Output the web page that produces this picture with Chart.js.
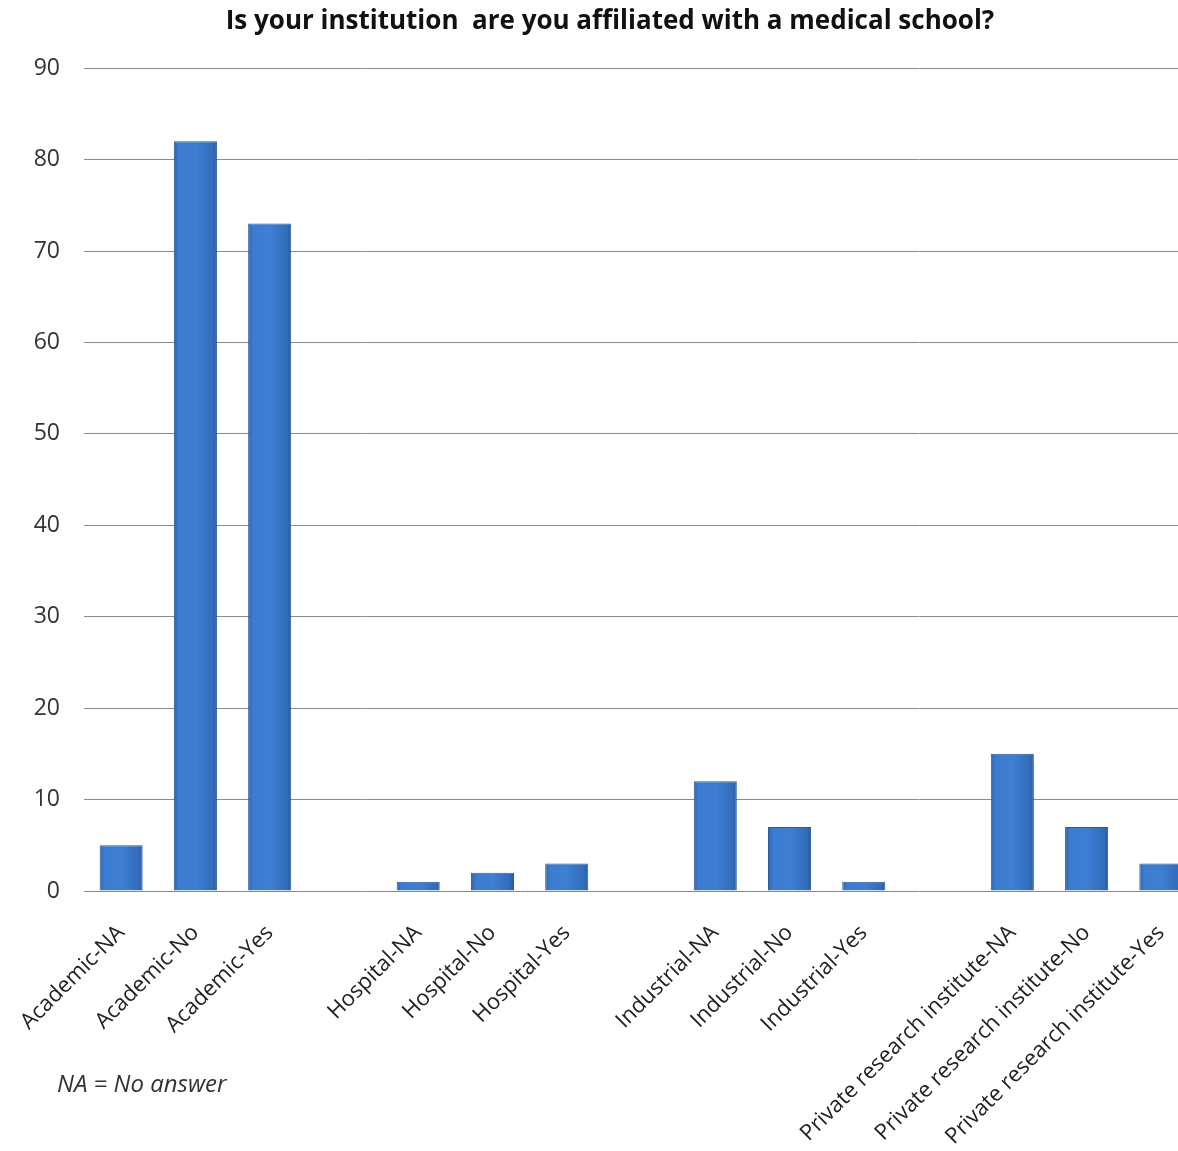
<!DOCTYPE html>
<html>
<head>
<meta charset="utf-8">
<script src="https://cdn.jsdelivr.net/npm/chart.js@4.4.1/dist/chart.umd.min.js"></script>
<style>
    html, body { margin: 0; padding: 0; background: #fff; overflow: hidden; }
    #wrap { position: relative; width: 1220px; height: 1151px; }
    #note {
        position: absolute; left: 57px; top: 1071px;
        font-family: 'Open Sans', sans-serif; font-style: italic;
        font-size: 24px; line-height: 24px; color: #333;
    }
</style>
</head>
<body>
<div id="wrap">
    <canvas id="chart" width="1220" height="1151"></canvas>
    <div id="note">NA = No answer</div>
</div>
<script>
// categorias (las vacias son los huecos entre grupos)
const categories = [
    'Academic-NA', 'Academic-No', 'Academic-Yes', '',
    'Hospital-NA', 'Hospital-No', 'Hospital-Yes', '',
    'Industrial-NA', 'Industrial-No', 'Industrial-Yes', '',
    'Private research institute-NA', 'Private research institute-No', 'Private research institute-Yes'
];
const counts = [5, 82, 73, null, 1, 2, 3, null, 12, 7, 1, null, 15, 7, 3];
const yTicks = [0, 10, 20, 30, 40, 50, 60, 70, 80, 90];

const FONT = "'Open Sans', sans-serif";

// degradado horizontal por barra, usando la escala x
const barFill = (ctx) => {
    const chart = ctx.chart;
    const area = chart.chartArea;
    if (!area) return '#3b78c8';
    const x = chart.scales.x.getPixelForValue(ctx.dataIndex);
    const half = 22;
    const g = chart.ctx.createLinearGradient(x - half, 0, x + half, 0);
    g.addColorStop(0, '#2f64ad');
    g.addColorStop(0.12, '#3b7bd0');
    g.addColorStop(0.5, '#3e7fd4');
    g.addColorStop(0.88, '#336dbb');
    g.addColorStop(1, '#2a5a9c');
    return g;
};

new Chart(document.getElementById('chart'), {
    type: 'bar',
    data: {
        labels: categories,
        datasets: [{
            data: counts,
            backgroundColor: barFill,
            borderColor: '#2b5b9d',
            borderWidth: 1,
            categoryPercentage: 1,
            barPercentage: 0.58
        }]
    },
    options: {
        responsive: false,
        animation: false,
        devicePixelRatio: 1,
        layout: { padding: { top: 6, right: 22, left: 22, bottom: 0 } },
        plugins: {
            legend: { display: false },
            tooltip: { enabled: false },
            title: {
                display: true,
                text: 'Is your institution  are you affiliated with a medical school?',
                color: '#111',
                font: { family: FONT, size: 26, weight: 'bold' },
                padding: { top: 0, bottom: 31 }
            }
        },
        scales: {
            x: {
                grid: { display: false },
                border: { display: false },
                ticks: {
                    color: '#222',
                    font: { family: FONT, size: 22 },
                    minRotation: 45,
                    maxRotation: 45,
                    autoSkip: false,
                    padding: 21
                },
                afterFit: (s) => { s.height = 260; }
            },
            y: {
                min: 0,
                max: 90,
                afterBuildTicks: (s) => { s.ticks = yTicks.map(v => ({ value: v })); },
                grid: { color: '#8a8a8a', lineWidth: 1, drawTicks: false },
                border: { display: false },
                ticks: {
                    color: '#333',
                    font: { family: FONT, size: 23 },
                    padding: 24
                },
                afterFit: (s) => { s.width = 62; }
            }
        }
    }
});
</script>
</body>
</html>
